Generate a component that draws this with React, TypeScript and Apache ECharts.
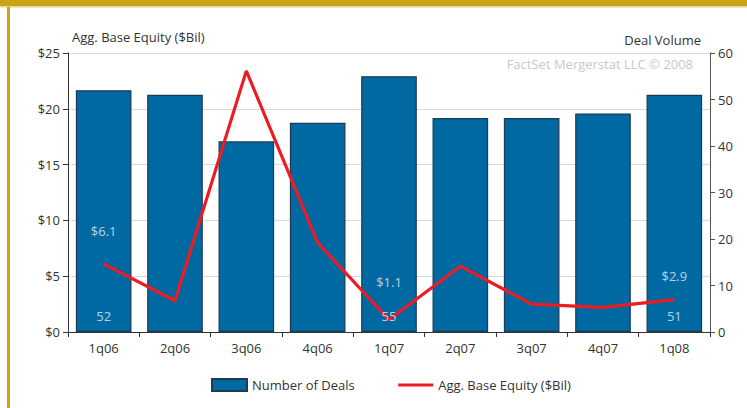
import React, { useEffect, useRef } from "react";
import * as echarts from "echarts";

const categories = ["1q06", "2q06", "3q06", "4q06", "1q07", "2q07", "3q07", "4q07", "1q08"];
const dealCounts = [52, 51, 41, 45, 55, 46, 46, 47, 51];
const baseEquity = [6.1, 2.8, 23.4, 8.0, 1.1, 5.9, 2.5, 2.2, 2.9];
const labelShown = [true, false, false, false, true, false, false, false, true];
const equityLabelDistance = [26, 0, 0, 0, 31, 0, 0, 0, 17];
const leftTicks = ["$0", "$5", "$10", "$15", "$20", "$25"];

const FONT = "'Open Sans', 'Noto Sans', sans-serif";
const LABEL_COLOR = "#e3eef6";

export default function App() {
  const ref = useRef<HTMLDivElement>(null);
  useEffect(() => {
    document.body.style.margin = "0";
    const chart = echarts.init(ref.current!, null, { renderer: "svg" });
    chart.setOption({
      animation: false,
      backgroundColor: "#ffffff",
      textStyle: { fontFamily: FONT },
      grid: { left: 68, right: 37, top: 53, bottom: 76, containLabel: false },
      legend: {
        left: 206,
        top: 373,
        itemWidth: 35,
        itemHeight: 12,
        itemGap: 42,
        textStyle: { fontFamily: FONT, fontSize: 13, color: "#333" },
        data: [
          { name: "Number of Deals", icon: "rect" },
          { name: "Agg. Base Equity ($Bil)", itemStyle: { opacity: 0 }, lineStyle: { width: 3 } },
        ],
      },
      graphic: [
        { type: "rect", shape: { x: 0, y: 0, width: 747, height: 6 }, style: { fill: "#c9a414" }, silent: true },
        { type: "rect", shape: { x: 0, y: 6, width: 747, height: 1.5 }, style: { fill: "#e8d68a" }, silent: true },
        { type: "rect", shape: { x: 7, y: 7, width: 3, height: 401 }, style: { fill: "#c9a414" }, silent: true },
        {
          type: "text",
          left: 72,
          top: 30,
          style: { text: "Agg. Base Equity ($Bil)", fill: "#333", font: `13px ${FONT}` },
        },
        {
          type: "text",
          right: 46,
          top: 33,
          style: { text: "Deal Volume", fill: "#333", font: `13px ${FONT}` },
        },
        {
          type: "text",
          right: 54,
          top: 57,
          style: { text: "FactSet Mergerstat LLC © 2008", fill: "#c8c8c8", font: `13px ${FONT}` },
        },
      ],
      xAxis: {
        type: "category",
        data: categories,
        boundaryGap: true,
        axisLine: { lineStyle: { color: "#333", width: 1 } },
        axisTick: { show: true, length: 5, alignWithLabel: false, lineStyle: { color: "#333" } },
        axisLabel: { color: "#333", fontSize: 13, margin: 9, fontFamily: FONT },
      },
      yAxis: [
        {
          type: "value",
          min: 0,
          max: 25,
          interval: 5,
          position: "left",
          axisLine: { show: true, lineStyle: { color: "#333" } },
          axisTick: { show: true, length: 5, lineStyle: { color: "#333" } },
          axisLabel: {
            color: "#333",
            fontSize: 13,
            margin: 8,
            fontFamily: FONT,
            formatter: (v: number) => leftTicks[Math.round(v / 5)],
          },
          splitLine: { show: true, lineStyle: { color: "#d9d9d9", width: 1 } },
        },
        {
          type: "value",
          min: 0,
          max: 60,
          interval: 10,
          position: "right",
          axisLine: { show: true, lineStyle: { color: "#555" } },
          axisTick: { show: true, length: 5, lineStyle: { color: "#555" } },
          axisLabel: { color: "#333", fontSize: 13, margin: 8, fontFamily: FONT },
          splitLine: { show: false },
        },
      ],
      series: [
        {
          name: "Number of Deals",
          type: "bar",
          yAxisIndex: 1,
          barWidth: "78%",
          itemStyle: { color: "#0069a2", borderColor: "#1d3b52", borderWidth: 1.2 },
          data: dealCounts,
          z: 2,
        },
        {
          name: "Agg. Base Equity ($Bil)",
          type: "line",
          yAxisIndex: 0,
          symbol: "none",
          showSymbol: false,
          lineStyle: { color: "#ec1c24", width: 3.2 },
          itemStyle: { color: "#ec1c24" },
          data: baseEquity,
          z: 5,
        },
        {
          name: "equityLabels",
          type: "scatter",
          yAxisIndex: 0,
          symbolSize: 0,
          silent: true,
          z: 10,
          data: baseEquity.map((v, i) => ({
            value: v,
            label: {
              show: labelShown[i],
              position: "top",
              distance: equityLabelDistance[i],
              color: LABEL_COLOR,
              fontSize: 13,
              fontFamily: FONT,
              formatter: () => "$" + v.toFixed(1),
            },
          })),
        },
        {
          name: "dealLabels",
          type: "scatter",
          yAxisIndex: 1,
          symbolSize: 0,
          silent: true,
          z: 10,
          data: dealCounts.map((v, i) => ({
            value: 0,
            label: {
              show: labelShown[i],
              position: "top",
              distance: 10,
              color: LABEL_COLOR,
              fontSize: 13,
              fontFamily: FONT,
              formatter: () => String(v),
            },
          })),
        },
      ],
    });
    return () => chart.dispose();
  }, []);
  return <div ref={ref} style={{ width: 747, height: 408 }} />;
}
